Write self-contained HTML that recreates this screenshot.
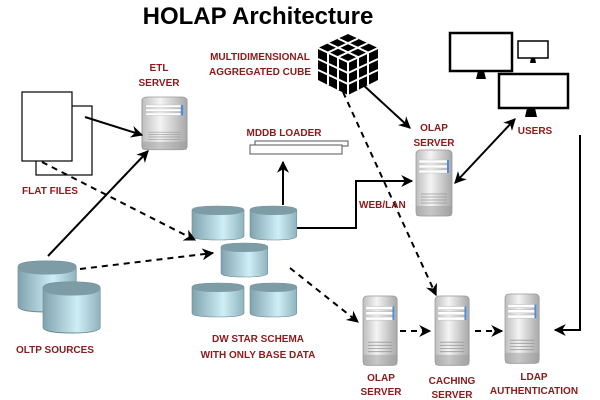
<!DOCTYPE html>
<html><head><meta charset="utf-8"><style>
body{margin:0;background:#fff}
svg{display:block}
.l{font-family:"Liberation Sans",sans-serif;font-size:10px;font-weight:bold;fill:#8b1a1a;text-anchor:middle}
</style></head><body>
<svg width="600" height="400" viewBox="0 0 600 400" xmlns="http://www.w3.org/2000/svg">
<defs>
<linearGradient id="cy" x1="0" x2="1" y1="0" y2="0">
<stop offset="0" stop-color="#7fa3ae"/><stop offset="0.6" stop-color="#cfeef5"/><stop offset="1" stop-color="#8fb3bd"/></linearGradient>
<linearGradient id="sv" x1="0" x2="1">
<stop offset="0" stop-color="#bdbdbd"/><stop offset="0.4" stop-color="#f4f4f4"/><stop offset="1" stop-color="#a8a8a8"/></linearGradient>
<marker id="a" viewBox="0 0 10 10" refX="9" refY="5" markerWidth="6" markerHeight="6" orient="auto-start-reverse"><path d="M0,0 L10,5 L0,10 L3,5z" fill="#000"/></marker>
<g id="srv">
<rect x="0" y="0" width="36" height="66" rx="4" fill="url(#sv)" stroke="#999" stroke-width="0.8"/>
<rect x="3" y="10" width="30" height="3" fill="#fff" stroke="#bbb" stroke-width="0.5"/>
<rect x="3" y="15" width="30" height="3" fill="#fff" stroke="#bbb" stroke-width="0.5"/>
<rect x="3" y="20" width="30" height="3" fill="#fff" stroke="#bbb" stroke-width="0.5"/>
<rect x="31" y="10" width="2" height="13" fill="#4a8fd8"/>
<path d="M5,44h26M5,47h26M5,50h26M5,53h26" stroke="#999" stroke-width="0.8"/>
<rect x="0" y="56" width="36" height="10" fill="#999" opacity="0.5"/>
</g>
<g id="cyl">
<path d="M0,4 Q0,0 26,0 Q52,0 52,4 V30 Q52,34 26,34 Q0,34 0,30Z" fill="url(#cy)" stroke="#6b8a93" stroke-width="0.6"/>
<path d="M0,4 Q0,9 26,9 Q52,9 52,4 Q52,0 26,0 Q0,0 0,4Z" fill="#7d9ca5"/>
</g>
</defs>
<text x="258" y="24" text-anchor="middle" font-family="Liberation Sans,sans-serif" font-weight="bold" font-size="24">HOLAP Architecture</text>

<rect x="36" y="106" width="56" height="69" fill="#fff" stroke="#000" stroke-width="1.2"/>
<rect x="22" y="92" width="50" height="69" fill="#fff" stroke="#000" stroke-width="1.2"/>
<text class="l" x="50" y="194">FLAT FILES</text>

<text class="l" x="159" y="71">ETL</text><text class="l" x="159" y="86">SERVER</text>
<use href="#srv" transform="translate(142,97) scale(1.25,0.8)"/>

<use href="#cyl" transform="translate(18,261) scale(1.12,1.5)"/>
<use href="#cyl" transform="translate(43,282) scale(1.1,1.5)"/>
<text class="l" x="55" y="353">OLTP SOURCES</text>

<use href="#cyl" transform="translate(192,206)"/>
<use href="#cyl" transform="translate(250,206) scale(0.9,1)"/>
<use href="#cyl" transform="translate(221,243) scale(0.9,1)"/>
<use href="#cyl" transform="translate(192,283)"/>
<use href="#cyl" transform="translate(250,283) scale(0.9,1)"/>
<text class="l" x="258" y="342">DW STAR SCHEMA</text>
<text class="l" x="258" y="358">WITH ONLY BASE DATA</text>

<text class="l" x="284" y="136">MDDB LOADER</text>
<rect x="255" y="141" width="93" height="5" fill="#fff" stroke="#555"/>
<rect x="250" y="145" width="92" height="9" fill="#fff" stroke="#555"/>

<text class="l" x="260" y="60">MULTIDIMENSIONAL</text>
<text class="l" x="260" y="75">AGGREGATED CUBE</text>
<g transform="translate(348,64)">
<path d="M-30,-16 L0,-30 L30,-16 L30,16 L0,31 L-30,16Z" fill="#000"/>
<path d="M-30,-16 L0,-2 L30,-16 M0,-2 V31 M-20,-21 L10,-7 M-10,-25.5 L20,-11.5 M20,-21 L-10,-7 M10,-25.5 L-20,-11.5 M-30,-5 L0,9 L30,-5 M-30,6 L0,20 L30,6 M-20,-11 V21 M-10,-7 V26 M10,-7 V26 M20,-11 V21" stroke="#fff" stroke-width="2" fill="none"/>
</g>

<text class="l" x="434" y="131">OLAP</text><text class="l" x="434" y="146">SERVER</text>
<use href="#srv" transform="translate(416,150)"/>

<g fill="#fff" stroke="#000" stroke-width="2.5">
<rect x="450" y="33" width="62" height="38"/>
<rect x="518" y="41" width="30" height="17" stroke-width="1.5"/>
<rect x="499" y="74" width="69" height="34"/>
</g>
<path d="M478,71h6l2,8h-10z M531,58h4l1,5h-6z M527,108h8l2,9h-12z" fill="#000"/>
<text class="l" x="535" y="134">USERS</text>

<use href="#srv" transform="translate(363,296) scale(0.95,1.05)"/>
<use href="#srv" transform="translate(435,296) scale(0.95,1.05)"/>
<use href="#srv" transform="translate(505,294) scale(0.95,1.05)"/>
<text class="l" x="381" y="381">OLAP</text><text class="l" x="381" y="395">SERVER</text>
<text class="l" x="452" y="384">CACHING</text><text class="l" x="452" y="398">SERVER</text>
<text class="l" x="534" y="380">LDAP</text><text class="l" x="534" y="394">AUTHENTICATION</text>

<g stroke="#000" stroke-width="2" fill="none">
<line x1="85" y1="117" x2="142" y2="135" marker-end="url(#a)"/>
<line x1="48" y1="256" x2="148" y2="151" marker-end="url(#a)"/>
<line x1="283" y1="205" x2="283" y2="162" marker-end="url(#a)"/>
<polyline points="297,228 356,228 356,181 412,181" marker-end="url(#a)"/>
<line x1="360" y1="82" x2="410" y2="128" marker-end="url(#a)"/>
<line x1="455" y1="183" x2="515" y2="119" marker-start="url(#a)" marker-end="url(#a)"/>
<polyline points="580,135 580,330 555,330" marker-end="url(#a)"/>
<g stroke-dasharray="6,5">
<line x1="42" y1="162" x2="195" y2="240" marker-end="url(#a)"/>
<line x1="80" y1="269" x2="213" y2="253" marker-end="url(#a)"/>
<line x1="343" y1="92" x2="436" y2="295" marker-end="url(#a)"/>
<line x1="290" y1="268" x2="358" y2="322" marker-end="url(#a)"/>
<line x1="400" y1="331" x2="430" y2="331" marker-end="url(#a)"/>
<line x1="475" y1="331" x2="502" y2="331" marker-end="url(#a)"/>
</g>
</g>
<text x="359" y="208" font-family="Liberation Sans,sans-serif" font-size="10" font-weight="bold" fill="#8b1a1a">WEB/LAN</text>
</svg>
</body></html>
